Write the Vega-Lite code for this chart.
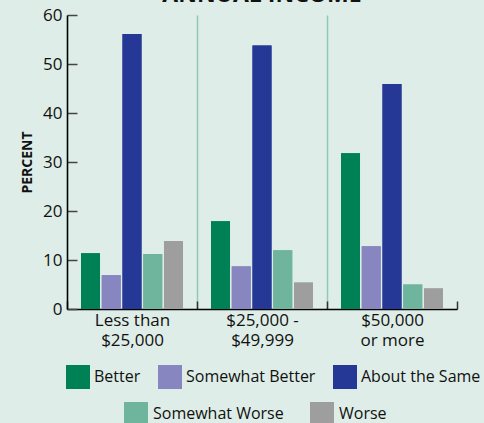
{
  "$schema": "https://vega.github.io/schema/vega-lite/v6.json",
  "width": 390,
  "height": 294,
  "autosize": {"type": "none"},
  "padding": {"left": 67, "top": 15, "right": 27, "bottom": 114},
  "background": "#deede7",
  "config": {"view": {"stroke": null}, "font": "Open Sans"},
  "title": {"text": "ANNUAL INCOME", "fontSize": 23, "font": "Open Sans", "fontWeight": "bold", "color": "#111111", "offset": 2, "baseline": "alphabetic", "dy": 21},
  "data": {"values": [
    {"group": "Less than $25,000", "resp": "Better", "pct": 11.4},
    {"group": "Less than $25,000", "resp": "Somewhat Better", "pct": 6.9},
    {"group": "Less than $25,000", "resp": "About the Same", "pct": 56.1},
    {"group": "Less than $25,000", "resp": "Somewhat Worse", "pct": 11.2},
    {"group": "Less than $25,000", "resp": "Worse", "pct": 13.9},
    {"group": "$25,000 - $49,999", "resp": "Better", "pct": 17.9},
    {"group": "$25,000 - $49,999", "resp": "Somewhat Better", "pct": 8.7},
    {"group": "$25,000 - $49,999", "resp": "About the Same", "pct": 53.8},
    {"group": "$25,000 - $49,999", "resp": "Somewhat Worse", "pct": 12.0},
    {"group": "$25,000 - $49,999", "resp": "Worse", "pct": 5.4},
    {"group": "$50,000 or more", "resp": "Better", "pct": 31.8},
    {"group": "$50,000 or more", "resp": "Somewhat Better", "pct": 12.8},
    {"group": "$50,000 or more", "resp": "About the Same", "pct": 45.9},
    {"group": "$50,000 or more", "resp": "Somewhat Worse", "pct": 5.0},
    {"group": "$50,000 or more", "resp": "Worse", "pct": 4.2}
  ]},
  "encoding": {
    "x": {
      "field": "group", "type": "nominal",
      "sort": ["Less than $25,000", "$25,000 - $49,999", "$50,000 or more"],
      "scale": {"paddingInner": 0, "paddingOuter": 0},
      "title": null,
      "axis": {
        "tickBand": "extent",
        "grid": true, "gridColor": "#8fcbb2", "gridWidth": 1.5,
        "gridOpacity": {"condition": {"test": "datum.value === '$50,000 or more'", "value": 0}, "value": 1},
        "domainColor": "#000000", "domainWidth": 1.5,
        "tickColor": "#333333", "tickWidth": 1.5, "tickSize": -8,
        "labelAngle": 0, "labelFontSize": 17, "labelFont": "Open Sans", "labelColor": "#111111",
        "labelLineHeight": 20, "labelPadding": 11,
        "labelExpr": "datum.label == 'Less than $25,000' ? ['Less than', '$25,000'] : datum.label == '$25,000 - $49,999' ? ['$25,000 -', '$49,999'] : datum.label == '$50,000 or more' ? ['$50,000', 'or more'] : ''"
      }
    },
    "xOffset": {
      "field": "resp", "type": "nominal",
      "sort": ["Better", "Somewhat Better", "About the Same", "Somewhat Worse", "Worse"],
      "scale": {"paddingInner": 0.084, "paddingOuter": 0.675}
    },
    "y": {
      "field": "pct", "type": "quantitative",
      "scale": {"domain": [0, 60], "nice": false},
      "title": "PERCENT",
      "axis": {
        "values": [0, 10, 20, 30, 40, 50, 60],
        "grid": false,
        "domainColor": "#000000", "domainWidth": 1.5,
        "tickColor": "#444444", "tickWidth": 1.5, "tickSize": -10,
        "labelPadding": 15, "labelFontSize": 17, "labelFont": "Open Sans", "labelColor": "#111111",
        "titleFont": "Open Sans", "titleFontSize": 14, "titleFontWeight": "bold", "titleColor": "#111111", "titlePadding": 8
      }
    }
  },
  "layer": [
    {
      "mark": {"type": "bar"},
      "encoding": {
        "color": {
          "field": "resp", "type": "nominal",
          "scale": {"domain": ["Better", "Somewhat Better", "About the Same", "Somewhat Worse", "Worse"], "range": ["#008055", "#8886c0", "#263896", "#6fb59d", "#9e9e9e"]},
          "legend": {"values": ["Better", "Somewhat Better", "About the Same"], "orient": "none", "legendX": -1, "legendY": 350, "direction": "horizontal", "title": null, "symbolType": "square", "symbolSize": 576, "symbolStrokeWidth": 0, "symbolOpacity": 1, "labelFontSize": 16, "labelFont": "Open Sans", "labelColor": "#111111", "labelOffset": 4, "columnPadding": 17, "padding": 0}
        }
      }
    },
    {
      "mark": {"type": "bar"},
      "encoding": {
        "fill": {
          "field": "resp", "type": "nominal",
          "scale": {"domain": ["Somewhat Worse", "Worse", "Better", "Somewhat Better", "About the Same"], "range": ["#6fb59d", "#9e9e9e", "#008055", "#8886c0", "#263896"]},
          "legend": {"values": ["Somewhat Worse", "Worse"], "orient": "none", "legendX": 57, "legendY": 387, "direction": "horizontal", "title": null, "symbolType": "square", "symbolSize": 576, "symbolStrokeWidth": 0, "symbolOpacity": 1, "labelFontSize": 16, "labelFont": "Open Sans", "labelColor": "#111111", "labelOffset": 5, "columnPadding": 26, "padding": 0}
        }
      }
    }
  ]
}
